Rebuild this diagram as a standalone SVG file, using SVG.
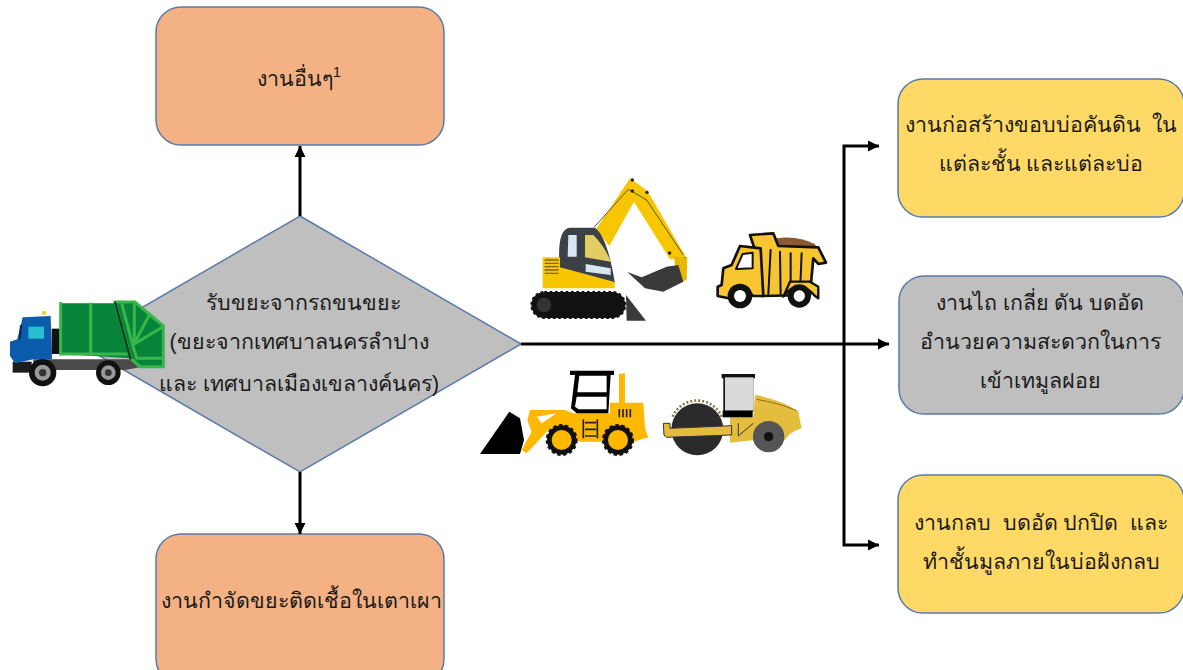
<svg xmlns="http://www.w3.org/2000/svg" width="1183" height="670" viewBox="0 0 1183 670">
<defs>
<marker id="ah" markerUnits="userSpaceOnUse" markerWidth="12" markerHeight="12" refX="11" refY="6" orient="auto"><path d="M0,0.5 L11,6 L0,11.500Z" fill="#000"/></marker>
</defs>
<style>
.t{font-family:"Liberation Sans","Noto Sans",sans-serif;font-size:21.400px;fill:#1a1a1a;text-anchor:middle;white-space:pre}
.b{stroke:#5b7aa8;stroke-width:1.500}
.o{fill:#f4b183}.y{fill:#ffd966}.g{fill:#bfbfbf}
.c{fill:none;stroke:#000;stroke-width:3}
.k{stroke:#111;stroke-linejoin:round;stroke-linecap:round}
</style>
<rect width="1183" height="670" fill="#fff"/>
<g id="node-other"><rect class="b o" x="156" y="7" width="288" height="138" rx="25"/><text class="t" x="299" y="86">งานอื่นๆ<tspan font-size="15" dy="-9">1</tspan></text></g>
<g id="node-incinerate"><rect class="b o" x="156" y="534" width="288" height="150" rx="25"/><text class="t" x="301" y="608">งานกำจัดขยะติดเชื้อในเตาเผา</text></g>
<g id="node-receive"><path class="b g" d="M300,216 L521,344 L300,472 L79,344Z"/>
<text class="t" x="303" y="310">รับขยะจากรถขนขยะ</text><text class="t" x="299" y="349">(ขยะจากเทศบาลนครลำปาง</text><text class="t" x="299" y="391">และ เทศบาลเมืองเขลางค์นคร)</text></g>
<g id="node-build"><rect class="b y" x="898" y="79" width="286" height="138" rx="25"/><text class="t" x="1041" y="132">งานก่อสร้างขอบบ่อคันดิน  ใน</text><text class="t" x="1041" y="171">แต่ละชั้น และแต่ละบ่อ</text></g>
<g id="node-grade"><rect class="b g" x="899" y="276" width="285" height="138" rx="25"/><text class="t" x="1040" y="310">งานไถ เกลี่ย ดัน บดอัด</text><text class="t" x="1040" y="349">อำนวยความสะดวกในการ</text><text class="t" x="1040" y="388">เข้าเทมูลฝอย</text></g>
<g id="node-cover"><rect class="b y" x="898" y="475" width="286" height="138" rx="25"/><text class="t" x="1041" y="530">งานกลบ  บดอัด ปกปิด  และ</text><text class="t" x="1041" y="569">ทำชั้นมูลภายในบ่อฝังกลบ</text></g>
<g id="connectors">
<path class="c" d="M300,216 V146" marker-end="url(#ah)"/>
<path class="c" d="M300,472 V534" marker-end="url(#ah)"/>
<path class="c" d="M521,344 H889" marker-end="url(#ah)"/>
<path class="c" d="M879,146 H844 V545 H879" marker-end="url(#ah)"/>
<path d="M868,140.500 L879,146 L868,151.500Z" fill="#000"/>
</g>
<g id="truck" transform="translate(0,280) scale(.3333)">
<path d="M160,238 H420 V262 L375,270 H100 V238Z" fill="#4a4a4a"/>
<path d="M38,245 H95 V278 H38Z" fill="#1c1c1c"/>
<path d="M30,228 V185 L52,178 L68,112 L152,108 L156,238 H100 L45,250Z" fill="#0b5cad"/>
<path d="M60,135 L68,135 L62,178 L55,180Z" fill="#0a2f5c"/><path d="M85,140 H132 V176 H85Z" fill="#27bfcf"/>
<circle cx="132" cy="99" r="7" fill="#f6cf3c"/>
<rect x="155" y="146" width="24" height="76" fill="#111"/>
<path d="M182,70 H345 L392,235 L182,222Z" fill="#06843a"/>
<path d="M182,66 V222 H385" fill="none" stroke="#39b54a" stroke-width="9"/>
<path d="M272,68 V225" stroke="#39b54a" stroke-width="10"/>
<path d="M345,66 H405 L490,138 V260 H420 L392,235Z" fill="#06843a" stroke="#39b54a" stroke-width="9"/>
<path d="M345,66 L392,238" stroke="#0b3f1e" stroke-width="7"/>
<path d="M365,70 L398,195 L490,140 M403,72 V190 L448,105 M398,195 L410,235 H488" fill="none" stroke="#39b54a" stroke-width="9"/>
<circle cx="128" cy="278" r="41" fill="#111"/><circle cx="128" cy="278" r="24" fill="#999"/><circle cx="128" cy="278" r="11" fill="#333"/>
<circle cx="325" cy="278" r="37" fill="#111"/><circle cx="325" cy="278" r="22" fill="#999"/><circle cx="325" cy="278" r="10" fill="#333"/>
</g>
<g id="excavator" transform="translate(520,170) scale(.3333)">
<path d="M228,178 L330,25 L382,62 L500,265 L450,268 L342,95 L268,228Z" fill="#f7c600"/>
<path d="M222,172 L325,58 L380,90 L490,255" fill="none" stroke="#555" stroke-width="3"/>
<circle cx="337" cy="30" r="5" fill="#222"/><circle cx="337" cy="63" r="5" fill="#222"/><circle cx="381" cy="67" r="5" fill="#222"/><circle cx="449" cy="249" r="5" fill="#222"/><circle cx="495" cy="267" r="5" fill="#222"/><circle cx="493" cy="325" r="5" fill="#222"/>
<path d="M462,258 L502,265 L500,330 L472,340 Z" fill="#e8b900"/>
<path d="M322,306 L365,322 L440,290 L475,285 L490,335 L430,365 L375,355Z" fill="#3a3a3a"/>
<path d="M118,280 Q112,176 150,173 H225 Q262,200 285,340 L200,330 L118,300Z" fill="#3c4148"/>
<path d="M145,195 H170 V260 H143Z" fill="#d8e6f2"/><path d="M195,195 H220 Q255,230 272,275 L195,262Z" fill="#e2cd63"/><path d="M197,282 L272,295 V315 L197,305Z" fill="#d8e6f2"/>
<path d="M68,262 H120 V292 L284,336 V355 H68Z" fill="#f7c600"/>
<path d="M74,270 H116 M74,280 H116 M74,290 H116 M74,300 H116 M74,310 H116" stroke="#7b6a20" stroke-width="4"/>
<rect x="34" y="366" width="282" height="78" rx="39" fill="#111" stroke="#111" stroke-width="6" stroke-dasharray="8 8"/>
<rect x="36" y="368" width="278" height="74" rx="37" fill="#111"/>
<circle cx="72" cy="405" r="22" fill="#333"/>
<path d="M318,375 L378,452 H320Z" fill="#3a3a3a"/>
</g>
<g id="dump-truck" transform="translate(520,170) scale(.3333)">
<path d="M770,205 Q830,195 885,222 L890,235 H770Z" fill="#8b5a33"/>
<path class="k" d="M690,195 L760,190 L775,228 L895,232 L918,278 L895,282 L880,265 L870,375 L725,378 L720,285Z" fill="#f7c52f" stroke-width="8"/>
<path class="k" d="M722,235 L660,228 L635,285 L610,295 L605,345 L593,350 V378 L625,385 Q655,335 700,378 H730 Z" fill="#f7c52f" stroke-width="8"/>
<path class="k" d="M668,252 L698,248 V295 L648,297Z" fill="#fff" stroke-width="6"/>
<path class="k" d="M752,240 L745,372 M780,245 L782,372 M812,250 L812,372 M845,250 L840,372" fill="none" stroke-width="6"/>
<path class="k" d="M790,380 Q835,320 885,378 L895,385 V350 L870,335 H810Z" fill="#f7c52f" stroke-width="7"/>
<circle cx="660" cy="378" r="37" fill="#111"/><circle cx="660" cy="378" r="18" fill="#fff"/>
<circle cx="838" cy="378" r="35" fill="#111"/><circle cx="838" cy="378" r="17" fill="#fff"/>
</g>
<g id="loader" transform="translate(470,360) scale(.3333)">
<path d="M30,282 L118,155 L150,175 L162,240 L150,282Z" fill="#000"/>
<path d="M180,150 L285,150 L310,160 H420 V128 H447 V42 L465,40 V128 H520 L525,205 L535,232 L490,245 H330 L235,210 L170,280 L155,270 L185,215 L172,180Z" fill="#ffb800"/>
<path d="M200,170 L260,160 L215,190Z" fill="#fff"/>
<path d="M300,32 H432 V45 H422 L415,160 H320 L303,145 L315,45 H300Z" fill="#000"/>
<path d="M328,47 H410 V97 H322Z" fill="#fff"/><path d="M320,110 H410 V148 H326 L315,140Z" fill="#fff"/>
<path d="M448,147 V172 M459,147 V172 M470,147 V172 M481,147 V172" stroke="#222" stroke-width="5"/>
<path d="M340,178 V235 M382,178 V235 M345,188 H378 M345,208 H378 M345,228 H378" stroke="#222" stroke-width="5" fill="none"/>
<circle cx="275" cy="240" r="44" fill="#111" stroke="#111" stroke-width="8" stroke-dasharray="10 8"/><circle cx="275" cy="240" r="30" fill="#ffb800"/>
<circle cx="444" cy="240" r="44" fill="#111" stroke="#111" stroke-width="8" stroke-dasharray="10 8"/><circle cx="444" cy="240" r="30" fill="#ffb800"/>
</g>
<g id="roller" transform="translate(470,360) scale(.3333)">
<path d="M855,105 Q940,120 985,155 L995,205 Q960,215 945,240 L855,240 L780,248 V172 H850Z" fill="#e4bd3e"/>
<path d="M860,118 Q930,130 980,152" stroke="#8a7020" stroke-width="3" fill="none"/>
<path d="M755,42 H855 V55 H850 V155 H760 V55 H755Z" fill="#111"/><rect x="765" y="52" width="85" height="100" fill="#d9d9d9"/>
<path d="M758,152 H848 V172 H758Z" fill="#000"/>
<circle cx="682" cy="208" r="78" fill="#2b2b2b"/>
<path d="M608,170 A80,80 0 0 1 755,170" fill="none" stroke="#8b7a55" stroke-width="8" stroke-dasharray="6 6"/>
<path d="M580,190 L600,190 V205 L785,197 V225 L590,232 L582,225Z" fill="#e4bd3e" stroke="#333" stroke-width="3"/>
<path d="M805,190 V228 L850,190" fill="none" stroke="#333" stroke-width="3"/>
<circle cx="896" cy="230" r="47" fill="#555"/><circle cx="896" cy="230" r="14" fill="#111"/>
</g>
</svg>
